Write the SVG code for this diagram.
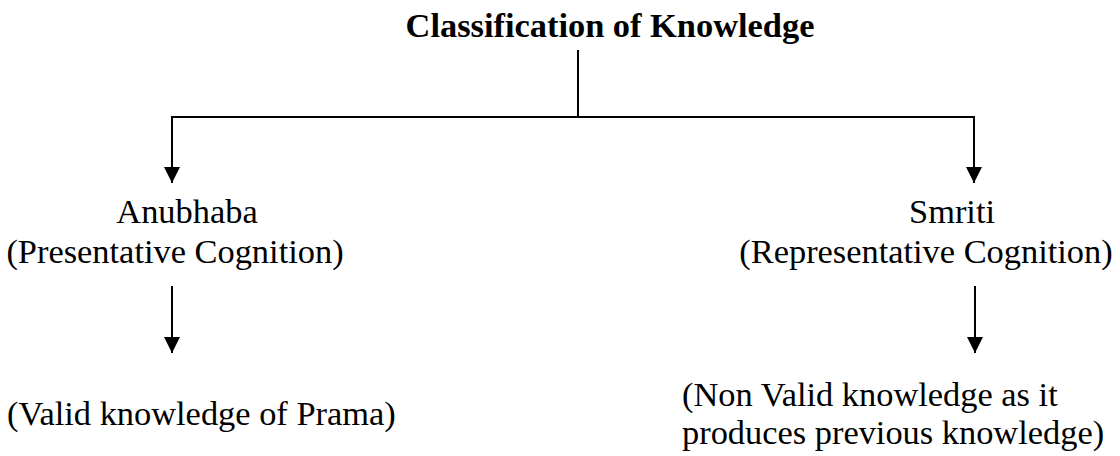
<svg xmlns="http://www.w3.org/2000/svg" width="1120" height="456" viewBox="0 0 1120 456">
<defs>
<style>
.t{font-family:"Liberation Serif","Times New Roman",serif;font-size:34.4px;fill:#000}
.b{font-weight:bold}
.c{fill:none;stroke:#000;stroke-width:2}
</style>
<marker id="ah" viewBox="0 0 16 16" refX="16" refY="8" markerWidth="16" markerHeight="16" markerUnits="userSpaceOnUse" orient="auto">
<path d="M0,0 L16,8 L0,16 z" fill="#000"/>
</marker>
</defs>
<rect width="1120" height="456" fill="#fff"/>
<g id="connectors">
<path class="c" d="M578,50 V117"/>
<path class="c" d="M172,117 H974"/>
<path class="c" d="M172,116 V183" marker-end="url(#ah)"/>
<path class="c" d="M974,116 V183" marker-end="url(#ah)"/>
<path class="c" d="M172,286 V353" marker-end="url(#ah)"/>
<path class="c" d="M975,286 V353" marker-end="url(#ah)"/>
</g>
<g id="root">
<text class="t b" x="610" y="37" text-anchor="middle">Classification of Knowledge</text>
</g>
<g id="anubhaba">
<text class="t" x="187" y="223" text-anchor="middle">Anubhaba</text>
<text class="t" x="175" y="263" text-anchor="middle">(Presentative Cognition)</text>
</g>
<g id="smriti">
<text class="t" x="952" y="223" text-anchor="middle">Smriti</text>
<text class="t" x="926" y="263" text-anchor="middle">(Representative Cognition)</text>
</g>
<g id="valid">
<text class="t" x="7" y="425">(Valid knowledge of Prama)</text>
</g>
<g id="nonvalid">
<text class="t" x="682" y="406">(Non Valid knowledge as it</text>
<text class="t" x="682" y="444">produces previous knowledge)</text>
</g>
</svg>
